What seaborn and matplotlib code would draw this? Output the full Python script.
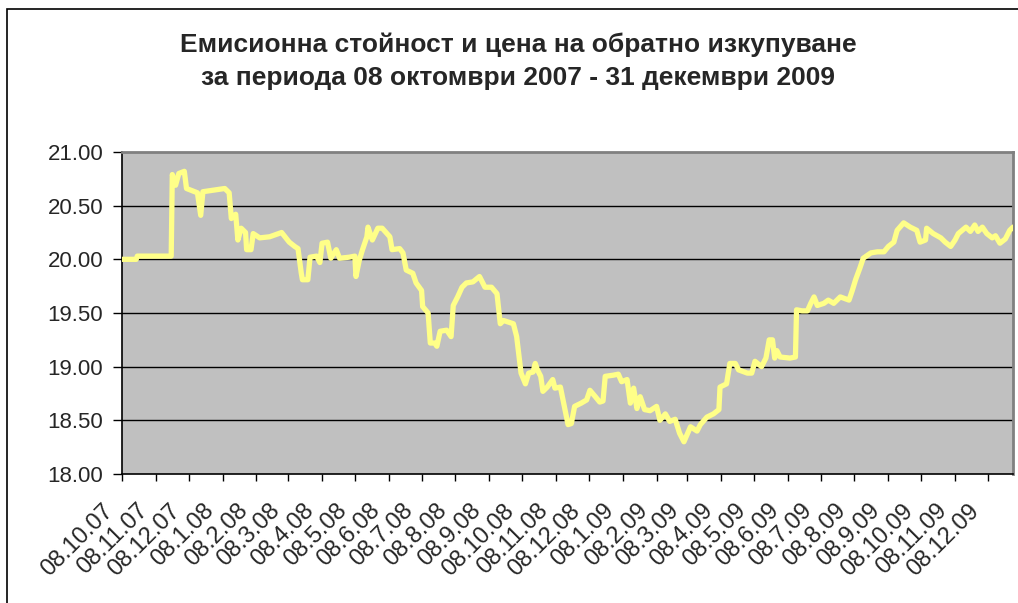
import matplotlib
matplotlib.use("Agg")
import matplotlib.pyplot as plt
import matplotlib.transforms as mtransforms
from matplotlib.patches import Rectangle
import seaborn as sns
import pandas as pd

title_lines = ["Емисионна стойност и цена на обратно изкупуване",
               "за периода 08 октомври 2007 - 31 декември 2009"]

dates = [
    "2007-10-08", "2007-10-21", "2007-10-22", "2007-11-22", "2007-11-23", "2007-11-26",
    "2007-11-29", "2007-12-04", "2007-12-06", "2007-12-16", "2007-12-19", "2007-12-21",
    "2008-01-10", "2008-01-14", "2008-01-16", "2008-01-20", "2008-01-22", "2008-01-25",
    "2008-01-29", "2008-01-30", "2008-02-03", "2008-02-05", "2008-02-11", "2008-02-20",
    "2008-03-02", "2008-03-09", "2008-03-14", "2008-03-17", "2008-03-20", "2008-03-21",
    "2008-03-26", "2008-03-28", "2008-04-03", "2008-04-06", "2008-04-08", "2008-04-13",
    "2008-04-16", "2008-04-21", "2008-04-24", "2008-05-03", "2008-05-08", "2008-05-09",
    "2008-05-12", "2008-05-15", "2008-05-19", "2008-05-20", "2008-05-24", "2008-05-29",
    "2008-06-02", "2008-06-09", "2008-06-11", "2008-06-18", "2008-06-21", "2008-06-24",
    "2008-06-30", "2008-07-03", "2008-07-08", "2008-07-09", "2008-07-14", "2008-07-16",
    "2008-07-20", "2008-07-22", "2008-07-25", "2008-07-31", "2008-08-04", "2008-08-06",
    "2008-08-10", "2008-08-14", "2008-08-18", "2008-08-24", "2008-08-30", "2008-09-04",
    "2008-09-10", "2008-09-15", "2008-09-18", "2008-09-21", "2008-09-30", "2008-10-03",
    "2008-10-07", "2008-10-11", "2008-10-14", "2008-10-18", "2008-10-20", "2008-10-22",
    "2008-10-25", "2008-10-27", "2008-10-31", "2008-11-05", "2008-11-07", "2008-11-12",
    "2008-11-15", "2008-11-19", "2008-11-22", "2008-11-25", "2008-12-01", "2008-12-06",
    "2008-12-09", "2008-12-14", "2008-12-18", "2008-12-21", "2008-12-23", "2008-12-30",
    "2009-01-04", "2009-01-07", "2009-01-12", "2009-01-15", "2009-01-18", "2009-01-21",
    "2009-01-24", "2009-01-28", "2009-02-02", "2009-02-08", "2009-02-11", "2009-02-16",
    "2009-02-20", "2009-02-25", "2009-03-01", "2009-03-05", "2009-03-11", "2009-03-17",
    "2009-03-20", "2009-03-26", "2009-04-01", "2009-04-06", "2009-04-07", "2009-04-13",
    "2009-04-16", "2009-04-21", "2009-04-24", "2009-05-02", "2009-05-06", "2009-05-09",
    "2009-05-15", "2009-05-19", "2009-05-22", "2009-05-25", "2009-05-27", "2009-05-29",
    "2009-06-01", "2009-06-10", "2009-06-15", "2009-06-16", "2009-06-21", "2009-06-26",
    "2009-06-29", "2009-07-02", "2009-07-05", "2009-07-11", "2009-07-15", "2009-07-20",
    "2009-07-26", "2009-08-03", "2009-08-06", "2009-08-09", "2009-08-13", "2009-08-16",
    "2009-08-23", "2009-08-29", "2009-09-04", "2009-09-08", "2009-09-13", "2009-09-16",
    "2009-09-22", "2009-09-28", "2009-10-04", "2009-10-07", "2009-10-12", "2009-10-13",
    "2009-10-19", "2009-10-26", "2009-10-30", "2009-11-04", "2009-11-08", "2009-11-11",
    "2009-11-18", "2009-11-22", "2009-11-26", "2009-11-29", "2009-12-03", "2009-12-07",
    "2009-12-12", "2009-12-15", "2009-12-19", "2009-12-24", "2009-12-28", "2009-12-31",
]

values = [
    20.00, 20.00, 20.03, 20.03, 20.79, 20.69,
    20.80, 20.82, 20.66, 20.62, 20.41, 20.63,
    20.66, 20.62, 20.38, 20.42, 20.18, 20.29,
    20.25, 20.09, 20.09, 20.24, 20.20, 20.21,
    20.25, 20.16, 20.12, 20.10, 19.87, 19.81,
    19.81, 20.02, 20.03, 19.97, 20.15, 20.16,
    20.01, 20.09, 20.01, 20.02, 20.03, 19.84,
    19.99, 20.09, 20.21, 20.30, 20.18, 20.29,
    20.29, 20.21, 20.09, 20.10, 20.06, 19.90,
    19.87, 19.78, 19.71, 19.56, 19.50, 19.22,
    19.22, 19.19, 19.33, 19.34, 19.28, 19.57,
    19.65, 19.74, 19.78, 19.79, 19.84, 19.74,
    19.74, 19.68, 19.40, 19.43, 19.40, 19.28,
    18.94, 18.84, 18.94, 18.95, 19.03, 18.97,
    18.91, 18.77, 18.81, 18.88, 18.80, 18.81,
    18.66, 18.46, 18.47, 18.63, 18.66, 18.69,
    18.78, 18.72, 18.67, 18.68, 18.91, 18.92,
    18.93, 18.86, 18.88, 18.66, 18.80, 18.61,
    18.72, 18.60, 18.59, 18.63, 18.50, 18.56,
    18.49, 18.51, 18.38, 18.30, 18.44, 18.40,
    18.46, 18.53, 18.56, 18.60, 18.81, 18.84,
    19.03, 19.03, 18.97, 18.94, 18.94, 19.05,
    19.00, 19.08, 19.25, 19.25, 19.08, 19.15,
    19.09, 19.08, 19.09, 19.53, 19.52, 19.52,
    19.59, 19.65, 19.57, 19.59, 19.62, 19.59,
    19.65, 19.62, 19.71, 19.81, 19.92, 20.01,
    20.06, 20.07, 20.07, 20.12, 20.16, 20.27,
    20.34, 20.30, 20.27, 20.16, 20.18, 20.29,
    20.24, 20.20, 20.16, 20.12, 20.18, 20.24,
    20.30, 20.26, 20.32, 20.26, 20.30, 20.24,
    20.20, 20.22, 20.15, 20.19, 20.27, 20.30,
]

tick_dates = [
    "2007-10-08", "2007-11-08", "2007-12-08", "2008-01-08", "2008-02-08", "2008-03-08",
    "2008-04-08", "2008-05-08", "2008-06-08", "2008-07-08", "2008-08-08", "2008-09-08",
    "2008-10-08", "2008-11-08", "2008-12-08", "2009-01-08", "2009-02-08", "2009-03-08",
    "2009-04-08", "2009-05-08", "2009-06-08", "2009-07-08", "2009-08-08", "2009-09-08",
    "2009-10-08", "2009-11-08", "2009-12-08",
]
tick_labels = [
    "08.10.07", "08.11.07", "08.12.07", "08.1.08", "08.2.08", "08.3.08",
    "08.4.08", "08.5.08", "08.6.08", "08.7.08", "08.8.08", "08.9.08",
    "08.10.08", "08.11.08", "08.12.08", "08.1.09", "08.2.09", "08.3.09",
    "08.4.09", "08.5.09", "08.6.09", "08.7.09", "08.8.09", "08.9.09",
    "08.10.09", "08.11.09", "08.12.09",
]
y_ticks = [18.0, 18.5, 19.0, 19.5, 20.0, 20.5, 21.0]

sns.set_theme(style="white")
plt.rcParams["font.family"] = ["Liberation Sans", "DejaVu Sans"]

df = pd.DataFrame({"date": pd.to_datetime(dates), "value": values})

fig = plt.figure(figsize=(10.18, 6.03), dpi=100)
fig.patch.set_facecolor("white")
ax = fig.add_axes([122 / 1018, 1 - 474 / 603, (1013 - 122) / 1018, (474 - 152) / 603])
ax.set_facecolor("#C0C0C0")

for yv in y_ticks[1:-1]:
    ax.axhline(yv, color="black", lw=1.0, zorder=1)

sns.lineplot(data=df, x="date", y="value", ax=ax, color="#FFFF88", lw=3.8,
             solid_joinstyle="round", solid_capstyle="round", zorder=3)

ax.set_xlim(pd.Timestamp("2007-10-08"), pd.Timestamp("2009-12-31"))
ax.set_ylim(18.0, 21.0)
ax.set_yticks(y_ticks)
ax.set_yticklabels([f"{v:.2f}" for v in y_ticks], fontsize=16)
ax.set_xticks(pd.to_datetime(tick_dates))
ax.set_xticklabels(tick_labels, fontsize=17, rotation=45, ha="right", va="top")
ax.set_xlabel("")
ax.set_ylabel("")

ax.tick_params(axis="y", direction="out", length=6.5, width=1, color="black", pad=7, left=True)
ax.tick_params(axis="x", direction="out", length=5, width=1, color="black", pad=13.5, bottom=True)
offset = mtransforms.ScaledTranslation(-4 / 100, 0, fig.dpi_scale_trans)
for lbl in ax.get_xticklabels():
    lbl.set_transform(lbl.get_transform() + offset)

for side in ["left", "bottom"]:
    ax.spines[side].set_color("black")
    ax.spines[side].set_linewidth(1.2)
for side in ["top", "right"]:
    ax.spines[side].set_color("#808080")
    ax.spines[side].set_linewidth(2)

fig.text(518 / 1018, 1 - 45 / 603, title_lines[0], ha="center", va="center",
         fontsize=19, fontweight="bold")
fig.text(518 / 1018, 1 - 78 / 603, title_lines[1], ha="center", va="center",
         fontsize=19, fontweight="bold")

fig.patches.append(Rectangle((7 / 1018, -0.1), 1.2, 1 - 9 / 603 + 0.1,
                             transform=fig.transFigure, fill=False,
                             edgecolor="black", lw=1.2))

fig.savefig("out.png", dpi=100)
